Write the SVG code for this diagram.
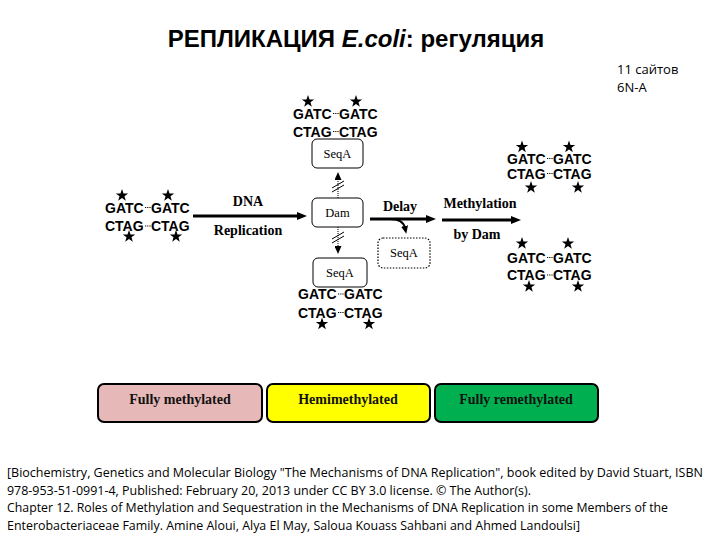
<svg xmlns="http://www.w3.org/2000/svg" xmlns:xlink="http://www.w3.org/1999/xlink" width="720" height="540" viewBox="0 0 720 540">
<style>
.title{font-family:"Liberation Sans",Arial,sans-serif;font-weight:bold;font-size:24px;fill:#000}
.note{font-family:"Open Sans","Liberation Sans",sans-serif;font-size:13px;fill:#000}
.seq{font-family:"Liberation Sans",Arial,sans-serif;font-weight:bold;font-size:14px;fill:#000}
.dots{stroke:#000;stroke-width:1;stroke-dasharray:1.2 1}
.lbl{font-family:"Liberation Serif","Times New Roman",serif;font-weight:bold;font-size:14px;text-anchor:middle;fill:#000}
.nbox{fill:#fff;stroke:#000;stroke-width:1}
.dbox{fill:#fff;stroke:#000;stroke-width:1.2;stroke-dasharray:1.5 1.5}
.blbl{font-family:"Liberation Serif","Times New Roman",serif;font-size:12.5px;text-anchor:middle;fill:#000}
.leg{stroke:#000;stroke-width:2}
.legt{font-family:"Liberation Serif","Times New Roman",serif;font-weight:bold;font-size:14px;text-anchor:middle;fill:#111}
.arr{stroke:#000;stroke-width:3;fill:none}
.thin{stroke:#000;stroke-width:1;fill:none}
.cite{font-family:"Open Sans","Liberation Sans",sans-serif;font-size:12.5px;fill:#000}
</style>
<defs>
<path id="star" d="M0,-6.5 L1.53,-2.1 L6.19,-2.01 L2.47,0.81 L3.82,5.27 L0,2.6 L-3.82,5.27 L-2.47,0.81 L-6.19,-2.01 L-1.53,-2.1 Z" fill="#000"/>
<marker id="ah" viewBox="0 0 10 8" refX="5" refY="4" markerWidth="10" markerHeight="8" markerUnits="userSpaceOnUse" orient="auto">
<path d="M0,0 L10,4 L0,8 z" fill="#000"/>
</marker>
<marker id="ahs" viewBox="0 0 8 7" refX="2" refY="3.5" markerWidth="8" markerHeight="7" markerUnits="userSpaceOnUse" orient="auto">
<path d="M0,0 L8,3.5 L0,7 z" fill="#000"/>
</marker>
</defs>
<rect width="720" height="540" fill="#fff"/>

<text class="title" x="356" y="47" text-anchor="middle">РЕПЛИКАЦИЯ <tspan font-style="italic">E.coli</tspan>: регуляция</text>
<text class="note" x="617" y="74">11 сайтов</text>
<text class="note" x="617" y="92">6N-A</text>

<g id="dna-left" transform="translate(105,207.5)">
<text class="seq" x="0" y="5">GATC</text><line class="dots" x1="40" y1="0" x2="46" y2="0"/><text class="seq" x="46" y="5">GATC</text>
<text class="seq" x="0" y="23.5">CTAG</text><line class="dots" x1="40" y1="18.5" x2="46" y2="18.5"/><text class="seq" x="46" y="23.5">CTAG</text>
<use xlink:href="#star" x="17" y="-12"/><use xlink:href="#star" x="63" y="-12"/>
<use xlink:href="#star" x="24" y="29"/><use xlink:href="#star" x="71" y="29"/>
</g>

<g id="dna-top" transform="translate(293,113.5)">
<text class="seq" x="0" y="5">GATC</text><line class="dots" x1="40" y1="0" x2="46" y2="0"/><text class="seq" x="46" y="5">GATC</text>
<text class="seq" x="0" y="23">CTAG</text><line class="dots" x1="40" y1="18" x2="46" y2="18"/><text class="seq" x="46" y="23">CTAG</text>
<use xlink:href="#star" x="15" y="-12"/><use xlink:href="#star" x="63" y="-12"/>
</g>

<g id="dna-bottom" transform="translate(298,294)">
<text class="seq" x="0" y="5">GATC</text><line class="dots" x1="40" y1="0" x2="46" y2="0"/><text class="seq" x="46" y="5">GATC</text>
<text class="seq" x="0" y="23.5">CTAG</text><line class="dots" x1="40" y1="18.5" x2="46" y2="18.5"/><text class="seq" x="46" y="23.5">CTAG</text>
<use xlink:href="#star" x="24" y="30"/><use xlink:href="#star" x="71" y="30"/>
</g>

<g id="dna-right-up" transform="translate(507,158.5)">
<text class="seq" x="0" y="5">GATC</text><line class="dots" x1="40" y1="0" x2="46" y2="0"/><text class="seq" x="46" y="5">GATC</text>
<text class="seq" x="0" y="20">CTAG</text><line class="dots" x1="40" y1="15" x2="46" y2="15"/><text class="seq" x="46" y="20">CTAG</text>
<use xlink:href="#star" x="15" y="-11.5"/><use xlink:href="#star" x="62" y="-11.5"/>
<use xlink:href="#star" x="24" y="29"/><use xlink:href="#star" x="71" y="29"/>
</g>

<g id="dna-right-down" transform="translate(507,257.5)">
<text class="seq" x="0" y="5">GATC</text><line class="dots" x1="40" y1="0" x2="46" y2="0"/><text class="seq" x="46" y="5">GATC</text>
<text class="seq" x="0" y="22.5">CTAG</text><line class="dots" x1="40" y1="17.5" x2="46" y2="17.5"/><text class="seq" x="46" y="22.5">CTAG</text>
<use xlink:href="#star" x="15" y="-14"/><use xlink:href="#star" x="61" y="-14"/>
<use xlink:href="#star" x="22" y="29"/><use xlink:href="#star" x="71" y="29"/>
</g>

<g id="seqa-top">
<rect class="nbox" x="312" y="139" width="51" height="29" rx="5"/>
<text class="blbl" x="337.5" y="158">SeqA</text>
</g>
<g id="dam">
<rect class="nbox" x="312" y="198" width="51" height="29" rx="5"/>
<text class="blbl" x="337.5" y="217">Dam</text>
</g>
<g id="seqa-bottom">
<rect class="nbox" x="313" y="258" width="54" height="29" rx="5"/>
<text class="blbl" x="340" y="277">SeqA</text>
</g>
<g id="seqa-dotted">
<rect class="dbox" x="378" y="238" width="52" height="30" rx="5"/>
<text class="blbl" x="404" y="257">SeqA</text>
</g>

<g id="connectors">
<line class="arr" x1="193" y1="216" x2="302" y2="216" marker-end="url(#ah)"/>
<line class="thin" stroke-dasharray="1 1" x1="338" y1="198" x2="338" y2="178" marker-end="url(#ahs)"/>
<line class="thin" x1="332" y1="188" x2="344" y2="181"/>
<line class="thin" x1="332" y1="192" x2="344" y2="185"/>
<line class="thin" stroke-dasharray="1 1" x1="338" y1="227" x2="338" y2="248" marker-end="url(#ahs)"/>
<line class="thin" x1="332" y1="239" x2="344" y2="232"/>
<line class="thin" x1="332" y1="243" x2="344" y2="236"/>
<line class="arr" x1="370" y1="219" x2="431" y2="219" marker-end="url(#ah)"/>
<path class="arr" style="stroke-width:2" d="M390,219 Q403,219 405,228" marker-end="url(#ahs)"/>
<line class="arr" x1="442" y1="220" x2="516" y2="220" marker-end="url(#ah)"/>
<text class="lbl" x="248" y="206">DNA</text>
<text class="lbl" x="248" y="235">Replication</text>
<text class="lbl" x="400" y="211">Delay</text>
<text class="lbl" x="480" y="208">Methylation</text>
<text class="lbl" x="477" y="239">by Dam</text>
</g>

<g id="legend-fully">
<rect class="leg" x="98" y="384" width="164" height="38" rx="6" fill="#e6b8b7"/>
<text class="legt" x="180" y="404">Fully methylated</text>
</g>
<g id="legend-hemi">
<rect class="leg" x="267" y="384" width="163" height="38" rx="6" fill="#ffff00"/>
<text class="legt" x="348" y="404">Hemimethylated</text>
</g>
<g id="legend-re">
<rect class="leg" x="435" y="384" width="163" height="38" rx="6" fill="#00b050"/>
<text class="legt" x="516" y="404">Fully remethylated</text>
</g>

<text class="cite" x="7" y="477" textLength="696" lengthAdjust="spacingAndGlyphs">[Biochemistry, Genetics and Molecular Biology "The Mechanisms of DNA Replication", book edited by David Stuart, ISBN</text>
<text class="cite" x="7" y="495" textLength="524" lengthAdjust="spacingAndGlyphs">978-953-51-0991-4, Published: February 20, 2013 under CC BY 3.0 license. © The Author(s).</text>
<text class="cite" x="7" y="512" textLength="661" lengthAdjust="spacingAndGlyphs">Chapter 12. Roles of Methylation and Sequestration in the Mechanisms of DNA Replication in some Members of the</text>
<text class="cite" x="7" y="530" textLength="573" lengthAdjust="spacingAndGlyphs">Enterobacteriaceae Family. Amine Aloui, Alya El May, Saloua Kouass Sahbani and Ahmed Landoulsi]</text>
</svg>
